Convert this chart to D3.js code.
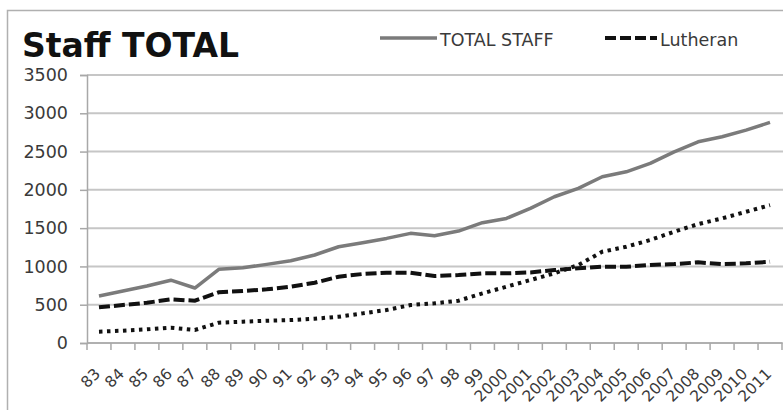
<!DOCTYPE html>
<html>
<head>
<meta charset="utf-8">
<script src="https://cdn.jsdelivr.net/npm/d3@7/dist/d3.min.js"></script>
<style>
  html, body { margin: 0; padding: 0; background: #fff; }
  svg { display: block; }
  text { font-family: "DejaVu Sans", sans-serif; }
</style>
</head>
<body>
<svg id="chart" width="783" height="410"></svg>
<script>
// Staff counts per year
const years = ["83","84","85","86","87","88","89","90","91","92","93","94","95","96","97","98","99",
  "2000","2001","2002","2003","2004","2005","2006","2007","2008","2009","2010","2011"];
const totalStaff = [614, 680, 745, 820, 718, 962, 983, 1027, 1074, 1149, 1257, 1310, 1366,
  1432, 1401, 1462, 1571, 1627, 1758, 1910, 2019, 2171, 2236, 2345, 2497, 2628, 2693, 2780, 2881];
const lutheran = [466, 496, 526, 570, 552, 662, 679, 701, 735, 787, 866, 901, 918,
  918, 875, 888, 910, 910, 922, 953, 975, 996, 996, 1018, 1031, 1053, 1031, 1040, 1061];
const otherStaff = [148, 161, 178, 200, 170, 265, 278, 291, 300, 317, 343, 387, 431,
  496, 518, 552, 648, 735, 822, 910, 1018, 1192, 1257, 1345, 1453, 1553, 1627, 1714, 1800];
const yTicks = [0, 500, 1000, 1500, 2000, 2500, 3000, 3500];

const svg = d3.select("#chart");

// outer frame
svg.append("rect")
  .attr("x", 7.5).attr("y", 10.5).attr("width", 800).attr("height", 420)
  .attr("fill", "none").attr("stroke", "#b0b0b0").attr("stroke-width", 1.5);

const plot = { left: 87, right: 782, top: 75, bottom: 343 };

const x = d3.scaleBand().domain(years).range([plot.left, plot.right]).padding(0);
const y = d3.scaleLinear().domain([0, 3500]).range([plot.bottom, plot.top]);

// horizontal gridlines
svg.append("g")
  .selectAll("line").data(yTicks).join("line")
  .attr("x1", plot.left).attr("x2", plot.right + 1)
  .attr("y1", d => y(d)).attr("y2", d => y(d))
  .attr("stroke", "#c6c6c6").attr("stroke-width", 2);

// y axis
const yAxis = svg.append("g")
  .attr("transform", `translate(${plot.left},0)`)
  .call(d3.axisLeft(y).tickValues(yTicks).tickSize(7).tickPadding(12).tickFormat(d3.format("d")));
yAxis.select(".domain").attr("stroke", "#a8a8a8").attr("stroke-width", 1.5);
yAxis.selectAll(".tick line").attr("stroke", "#a8a8a8").attr("stroke-width", 1.5);
yAxis.selectAll(".tick text")
  .attr("font-size", "17.5px").attr("fill", "#3a3a3a")
  .attr("font-family", "DejaVu Sans, sans-serif");

// x axis: ticks between categories
const xAxisG = svg.append("g").attr("transform", `translate(0,${plot.bottom})`);
const boundaries = d3.range(years.length + 1).map(i => plot.left + i * x.bandwidth());
xAxisG.append("line")
  .attr("x1", plot.left).attr("x2", plot.right)
  .attr("stroke", "#a8a8a8").attr("stroke-width", 1.5);
xAxisG.selectAll("line.tick").data(boundaries).join("line")
  .attr("class", "tick")
  .attr("x1", d => d).attr("x2", d => d)
  .attr("y1", 0).attr("y2", 7)
  .attr("stroke", "#a8a8a8").attr("stroke-width", 1.5);

svg.append("g").selectAll("text").data(years).join("text")
  .attr("transform", d => `translate(${x(d) + x.bandwidth() / 2 - 1.5},371) rotate(-45)`)
  .attr("text-anchor", "end")
  .attr("dy", "0.35em")
  .attr("font-size", "15.5px")
  .attr("fill", "#3a3a3a")
  .text(d => d);

// series lines
const line = d3.line()
  .x((d, i) => x(years[i]) + x.bandwidth() / 2)
  .y(d => y(d));

svg.append("path").datum(otherStaff)
  .attr("d", line).attr("fill", "none")
  .attr("stroke", "#111").attr("stroke-width", 4)
  .attr("stroke-dasharray", "3.5,4.5");

svg.append("path").datum(lutheran)
  .attr("d", line).attr("fill", "none")
  .attr("stroke", "#111").attr("stroke-width", 4)
  .attr("stroke-dasharray", "11,4");

svg.append("path").datum(totalStaff)
  .attr("d", line).attr("fill", "none")
  .attr("stroke", "#7b7b7b").attr("stroke-width", 3.5)
  .attr("stroke-linejoin", "round");

// title
svg.append("text")
  .attr("x", 22).attr("y", 57)
  .attr("font-size", "33px").attr("font-weight", "bold")
  .attr("fill", "#111")
  .text("Staff TOTAL");

// legend
const legend = svg.append("g");
legend.append("line")
  .attr("x1", 380).attr("x2", 437).attr("y1", 38).attr("y2", 38)
  .attr("stroke", "#7b7b7b").attr("stroke-width", 3.5);
legend.append("text")
  .attr("x", 440).attr("y", 46)
  .attr("font-size", "17.5px").attr("fill", "#3a3a3a")
  .text("TOTAL STAFF");
legend.append("line")
  .attr("x1", 605).attr("x2", 657).attr("y1", 38).attr("y2", 38)
  .attr("stroke", "#111").attr("stroke-width", 4)
  .attr("stroke-dasharray", "11,4");
legend.append("text")
  .attr("x", 660).attr("y", 46)
  .attr("font-size", "17.5px").attr("fill", "#3a3a3a")
  .text("Lutheran");
</script>
</body>
</html>
